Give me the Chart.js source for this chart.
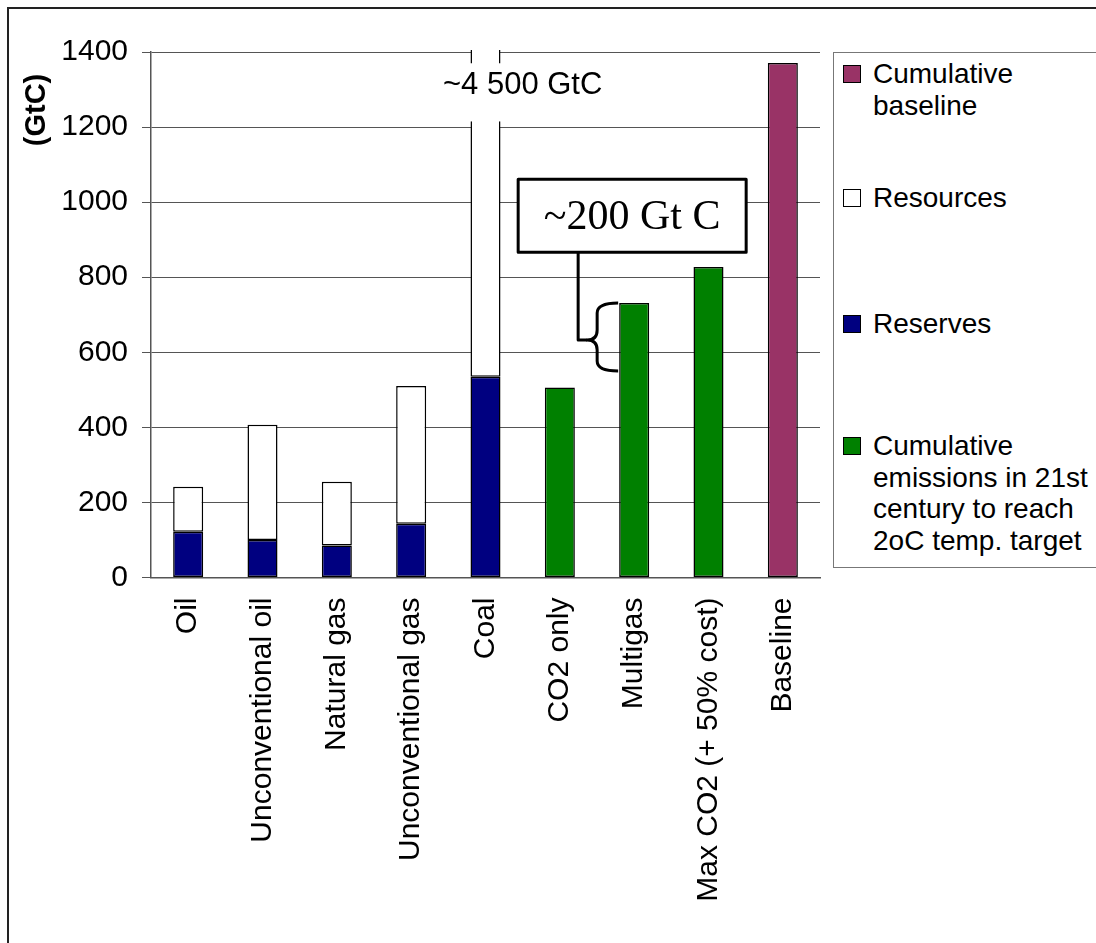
<!DOCTYPE html>
<html><head><meta charset="utf-8">
<script src="https://cdn.jsdelivr.net/npm/chart.js@4/dist/chart.umd.min.js"></script>
<style>
html,body{margin:0;padding:0;background:#fff;width:1096px;height:943px;overflow:hidden;}
#frame{position:absolute;left:7px;top:7px;width:1200px;height:1100px;border-left:2px solid #222;border-top:2px solid #222;}
#cv{position:absolute;left:0;top:0;}
#legend{position:absolute;left:833px;top:52px;width:300px;height:514px;border:1px solid #777;background:#fff;font-family:"Liberation Sans",Arial,sans-serif;font-size:28px;color:#000;}
.sw{position:absolute;left:9px;width:16px;height:16px;border:1px solid #000;}
.tx{position:absolute;left:39px;line-height:31.5px;white-space:nowrap;}
</style>
</head><body>
<div id="frame"></div>
<canvas id="cv" width="1096" height="943"></canvas>
<div id="legend"></div>
<script>
const categories = ['Oil','Unconventional oil','Natural gas','Unconventional gas','Coal','CO2 only','Multigas','Max CO2 (+ 50% cost)','Baseline'];
const reserves = [122, 100, 85, 143, 535, null, null, null, null];
const resourceTotals = [242, 407, 255, 510, 4500, null, null, null, null];
const emissions2C = [null, null, null, null, null, 506, 731, 827, null];
const cumulativeBaseline = [null, null, null, null, null, null, null, null, 1371];
const yTickValues = [0, 200, 400, 600, 800, 1000, 1200, 1400];
const coalLabel = '~4 500 GtC';
const calloutLabel = '~200 Gt C';
const braceLow = 550;
const braceMid = 633;
const legendLines = {
  baseline: ['Cumulative', 'baseline'],
  resources: ['Resources'],
  reserves: ['Reserves'],
  emissions: ['Cumulative', 'emissions in 21st', 'century to reach', '2oC temp. target']
};

const resourcesAbove = resourceTotals.map((t, i) => t == null ? null : t - reserves[i]);

const FONT = '"Liberation Sans", Arial, sans-serif';

const dsReserves = {label:'Reserves', data:reserves, backgroundColor:'#000080', borderColor:'#000', borderWidth:1.5, borderSkipped:false};
const dsResources = {label:'Resources', data:resourcesAbove, backgroundColor:'#ffffff', borderColor:'#000', borderWidth:1.5, borderSkipped:false, clip:2};
const dsEmissions = {label:'Cumulative emissions in 21st century to reach 2oC temp. target', data:emissions2C, backgroundColor:'#008000', borderColor:'#000', borderWidth:1.5, borderSkipped:false};
const dsBaseline = {label:'Cumulative baseline', data:cumulativeBaseline, backgroundColor:'#993366', borderColor:'#000', borderWidth:1.5, borderSkipped:false};

const annot = {
  id: 'annot',
  afterDatasetsDraw(chart) {
    const {ctx, scales: {x, y}} = chart;
    ctx.save();
    // coal break label
    const cx = (x.getPixelForValue(4) + x.getPixelForValue(5)) / 2;
    const yTop = y.getPixelForValue(1370), yBot = y.getPixelForValue(1215);
    ctx.fillStyle = '#fff';
    ctx.fillRect(cx - 84, yTop, 168, yBot - yTop);
    ctx.fillStyle = '#000';
    ctx.font = '31px ' + FONT;
    ctx.textAlign = 'center';
    ctx.textBaseline = 'middle';
    ctx.fillText(coalLabel, cx, y.getPixelForValue(1310));

    // brace and callout
    const bar = chart.getDatasetMeta(2).data[6];
    const bl = bar.x - bar.width / 2 - 1;
    const yT = y.getPixelForValue(731), yB = y.getPixelForValue(braceLow), yM = y.getPixelForValue(braceMid);
    const bx = bl - 21, tip = bl - 31, lx = bl - 40;
    ctx.strokeStyle = '#000';
    ctx.lineWidth = 3;
    ctx.lineJoin = 'round';
    ctx.beginPath();
    ctx.moveTo(bl, yT);
    ctx.quadraticCurveTo(bx, yT, bx, yT + 10);
    ctx.lineTo(bx, yM - 10);
    ctx.quadraticCurveTo(bx, yM, tip, yM);
    ctx.quadraticCurveTo(bx, yM, bx, yM + 10);
    ctx.lineTo(bx, yB - 10);
    ctx.quadraticCurveTo(bx, yB, bl, yB);
    ctx.stroke();

    const boxCx = x.getPixelForValue(6) - 2, boxCy = y.getPixelForValue(964);
    const bw = 228, bh = 73;
    ctx.beginPath();
    ctx.moveTo(lx, boxCy + bh / 2);
    ctx.lineTo(lx, yM);
    ctx.lineTo(tip, yM);
    ctx.stroke();

    ctx.fillStyle = '#fff';
    ctx.fillRect(boxCx - bw / 2, boxCy - bh / 2, bw, bh);
    ctx.lineWidth = 3;
    ctx.strokeRect(boxCx - bw / 2, boxCy - bh / 2, bw, bh);
    ctx.fillStyle = '#000';
    ctx.font = '42px "Liberation Serif", "Times New Roman", serif';
    ctx.fillText(calloutLabel, boxCx, boxCy + 2);

    // y title
    ctx.translate(37, 110);
    ctx.rotate(-Math.PI / 2);
    ctx.font = 'bold 29px ' + FONT;
    ctx.fillText('(GtC)', 0, 0);
    ctx.restore();
  }
};

const chart = new Chart(document.getElementById('cv'), {
  type: 'bar',
  data: {labels: categories, datasets: [dsReserves, dsResources, dsEmissions, dsBaseline]},
  options: {
    responsive: false,
    animation: false,
    devicePixelRatio: 1,
    layout: {padding: {left: 0, top: 52, right: 276, bottom: 0}},
    datasets: {bar: {categoryPercentage: 1, barPercentage: 0.404}},
    plugins: {legend: {display: false}, tooltip: {enabled: false}},
    scales: {
      x: {
        stacked: true,
        grid: {display: false, drawTicks: false},
        border: {display: true, color: '#555', width: 1.5},
        ticks: {color: '#000', font: {family: FONT, size: 30}, maxRotation: 90, minRotation: 90, padding: 20, autoSkip: false},
        afterFit: s => { s.height = 943 - 577.5; }
      },
      y: {
        stacked: true,
        min: 0, max: 1400,
        afterBuildTicks: s => { s.ticks = yTickValues.map(v => ({value: v})); },
        grid: {color: '#555', lineWidth: 1, tickLength: 9, drawTicks: true},
        border: {display: true, color: '#555', width: 1.5},
        ticks: {color: '#000', font: {family: FONT, size: 30}, padding: 14, callback: v => String(v)},
        afterFit: s => { s.width = 151; }
      }
    }
  },
  plugins: [annot]
});

// HTML legend built from datasets
const legendEntries = [
  {ds: dsBaseline, lines: legendLines.baseline, top: 5},
  {ds: dsResources, lines: legendLines.resources, top: 129},
  {ds: dsReserves, lines: legendLines.reserves, top: 255},
  {ds: dsEmissions, lines: legendLines.emissions, top: 377}
];
const lg = document.getElementById('legend');
legendEntries.forEach(e => {
  const sw = document.createElement('div');
  sw.className = 'sw';
  sw.style.top = (e.top + 7) + 'px';
  sw.style.background = e.ds.backgroundColor;
  lg.appendChild(sw);
  const tx = document.createElement('div');
  tx.className = 'tx';
  tx.style.top = e.top + 'px';
  tx.innerHTML = e.lines.join('<br>');
  lg.appendChild(tx);
});
</script>
</body></html>
